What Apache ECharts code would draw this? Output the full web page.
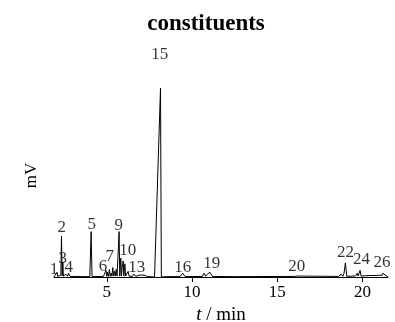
<!DOCTYPE html>
<html>
<head>
<meta charset="utf-8">
<script src="https://cdn.jsdelivr.net/npm/echarts@6/dist/echarts.min.js"></script>
<style>html,body{margin:0;padding:0;background:#fff}#c{width:395px;height:322px}</style>
</head>
<body>
<div id="c"></div>
<script>
// chromatogram trace: time (min) and signal (mV, relative)
var traceTime = [1.9, 2.0, 2.08, 2.12, 2.2, 2.3, 2.34, 2.38, 2.42, 2.45, 2.5, 2.6, 2.7, 2.75, 2.85, 3.2, 3.6, 4.0, 4.08, 4.1, 4.13, 4.3, 4.8, 4.95, 5.0, 5.05, 5.1, 5.15, 5.2, 5.25, 5.3, 5.35, 5.4, 5.45, 5.5, 5.55, 5.6, 5.68, 5.72, 5.76, 5.82, 5.86, 5.9, 5.96, 6.0, 6.06, 6.1, 6.15, 6.25, 6.3, 6.35, 6.5, 6.6, 6.7, 6.9, 7.0, 7.2, 7.4, 7.8, 8.15, 8.2, 8.5, 9.3, 9.45, 9.6, 10.6, 10.7, 10.8, 10.9, 11.05, 11.2, 12.5, 16.0, 16.1, 16.2, 16.3, 18.6, 18.75, 18.85, 18.92, 19.0, 19.08, 19.3, 19.6, 19.7, 19.75, 19.8, 19.86, 19.92, 20.1, 20.5, 20.8, 21.0, 21.1, 21.15, 21.2, 21.25, 21.3, 21.4, 21.5];
var traceSignal = [0, 0.2, 2.5, 0.3, 0.3, 1, 21.7, 0.5, 8, 0.5, 0.4, 1.5, 0.4, 2, 0.3, 0.3, 0.2, 0.2, 24, 24, 0.2, 0.2, 0.3, 3.5, 0.3, 2.5, 0.3, 4, 0.4, 2, 0.4, 5, 0.5, 3, 0.5, 4, 0.5, 0.5, 24, 0.5, 10, 0.5, 5, 8.5, 0.5, 7, 0.5, 0.5, 3, 0.5, 1.5, 0.3, 1.5, 0.3, 1, 0.3, 1, 0.2, 0, 100, 0, 0.2, 0.2, 2, 0.2, 0.3, 2, 0.4, 1.5, 2.5, 0.3, 0.2, 0.3, 1, 0.5, 0.2, 0.3, 1.5, 0.4, 2, 7.5, 0.4, 0.4, 0.6, 2, 0.5, 1.2, 3.5, 0.5, 0.6, 0.8, 0.8, 1, 1.5, 0.8, 2, 1, 2.5, 0.6, 0];
// peak number labels: name, time, signal position of the label centre
var peakNames = ['1', '2', '3', '4', '5', '6', '7', '9', '10', '13', '15', '16', '19', '20', '22', '24', '26'];
var peakLabelTime = [1.9, 2.36, 2.42, 2.77, 4.12, 4.77, 5.17, 5.7, 6.23, 6.75, 8.1, 9.45, 11.15, 16.15, 19.0, 19.94, 21.15];
var peakLabelSignal = [4.2, 26, 10, 4.8, 27.5, 5.3, 11, 27, 13.8, 4.8, 117.5, 4.8, 6.9, 5.3, 12.7, 9, 7.4];

var traceData = traceTime.map(function (t, i) { return [t, traceSignal[i]]; });
var labelData = peakNames.map(function (n, i) { return [peakLabelTime[i], peakLabelSignal[i], n]; });

var chart = echarts.init(document.getElementById('c'));
var serif = '"Liberation Serif", "DejaVu Serif", serif';
chart.setOption({
  animation: false,
  backgroundColor: '#fff',
  title: {
    text: 'constituents',
    left: 201,
    top: 8,
    textAlign: 'center',
    textStyle: { fontFamily: serif, fontWeight: 'bold', fontSize: 23, color: '#000' }
  },
  grid: { left: 54, right: 7, top: 88, bottom: 45, outerBoundsMode: 'none', containLabel: false },
  xAxis: {
    type: 'value',
    min: 1.9,
    max: 21.5,
    name: '{i|t} / min',
    nameLocation: 'middle',
    nameGap: 26,
    nameTextStyle: {
      fontFamily: serif, fontSize: 19, color: '#000',
      rich: { i: { fontFamily: serif, fontStyle: 'italic', fontSize: 19, color: '#000' } }
    },
    axisLine: { show: true, lineStyle: { color: '#000', width: 1 } },
    axisTick: { show: true, length: 5, customValues: [5, 10, 15, 20], lineStyle: { color: '#000' } },
    axisLabel: { customValues: [5, 10, 15, 20], fontFamily: serif, fontSize: 17, color: '#000', margin: 7 },
    splitLine: { show: false }
  },
  yAxis: {
    type: 'value',
    min: 0,
    max: 100,
    name: 'mV',
    nameLocation: 'middle',
    nameGap: 14,
    nameTextStyle: { fontFamily: serif, fontSize: 17, color: '#000', padding: [0, 0, 0, 14] },
    axisLine: { show: false },
    axisTick: { show: false },
    axisLabel: { show: false },
    splitLine: { show: false }
  },
  series: [
    {
      type: 'line',
      data: traceData,
      showSymbol: false,
      symbol: 'none',
      lineStyle: { color: '#000', width: 1 },
      clip: false,
      z: 3
    },
    {
      type: 'scatter',
      data: labelData,
      symbolSize: 0,
      clip: false,
      label: {
        show: true,
        position: 'inside',
        formatter: function (p) { return p.value[2]; },
        fontFamily: serif,
        fontSize: 17,
        color: '#000'
      },
      z: 4
    }
  ]
});
</script>
</body>
</html>
